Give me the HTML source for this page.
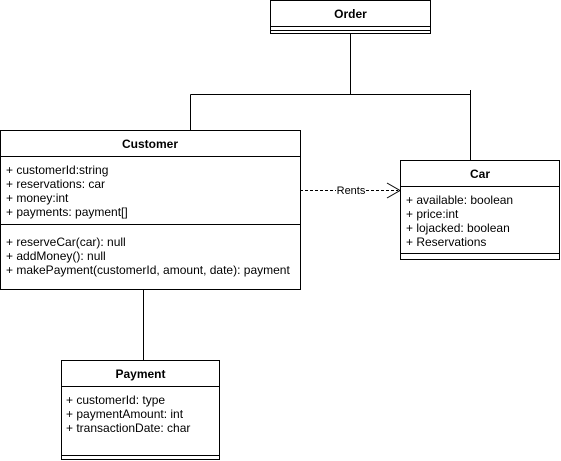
<!DOCTYPE html>
<html><head><style>body{margin:0;background:#fff}svg{display:block}text{font-family:"Liberation Sans",Helvetica,sans-serif;font-size:12px;fill:#000}.b{font-weight:bold;font-size:12px}</style></head>
<body>
<svg width="561" height="461" viewBox="0 0 561 461" xmlns="http://www.w3.org/2000/svg">
<g fill="none" stroke="#000" stroke-width="1">
<path d="M350.5 34V94.5M190.5 94.5H470.5M190.5 94.5V130M470.5 90V160M143.5 290V360"/>
<path d="M300 190.5H336M366 190.5H398" stroke-dasharray="3 2"/>
<path d="M387 183L400 190.5L387 198"/>
<rect x="270.5" y="0.5" width="160" height="33"/>
<path d="M270.5 26.5H430.5M270.5 30.5H430.5"/>
<rect x="0.5" y="130.5" width="300" height="159"/>
<path d="M0.5 156.5H300.5M0.5 224.5H300.5"/>
<rect x="400.5" y="160.5" width="159" height="99"/>
<path d="M400.5 186.5H559.5M400.5 253.5H559.5"/>
<rect x="61.5" y="360.5" width="158" height="99"/>
<path d="M61.5 386.5H219.5M61.5 455.5H219.5"/>
</g>
<rect x="336" y="184" width="30" height="12" fill="#fff"/>
<text x="351" y="194" text-anchor="middle" style="font-size:11px">Rents</text>
<text class="b" x="350.5" y="18" text-anchor="middle">Order</text>
<text class="b" x="150" y="148" text-anchor="middle">Customer</text>
<text x="6" y="174">+ customerId:string</text>
<text x="6" y="188">+ reservations: car</text>
<text x="6" y="202">+ money:int</text>
<text x="6" y="216">+ payments: payment[]</text>
<text x="6" y="246">+ reserveCar(car): null</text>
<text x="6" y="260">+ addMoney(): null</text>
<text x="6" y="274">+ makePayment(customerId, amount, date): payment</text>
<text class="b" x="480" y="178" text-anchor="middle">Car</text>
<text x="406" y="204">+ available: boolean</text>
<text x="406" y="218">+ price:int</text>
<text x="406" y="232">+ lojacked: boolean</text>
<text x="406" y="246">+ Reservations</text>
<text class="b" x="140.5" y="378" text-anchor="middle">Payment</text>
<text x="66" y="404">+ customerId: type</text>
<text x="66" y="418">+ paymentAmount: int</text>
<text x="66" y="432">+ transactionDate: char</text>
</svg>
</body></html>
